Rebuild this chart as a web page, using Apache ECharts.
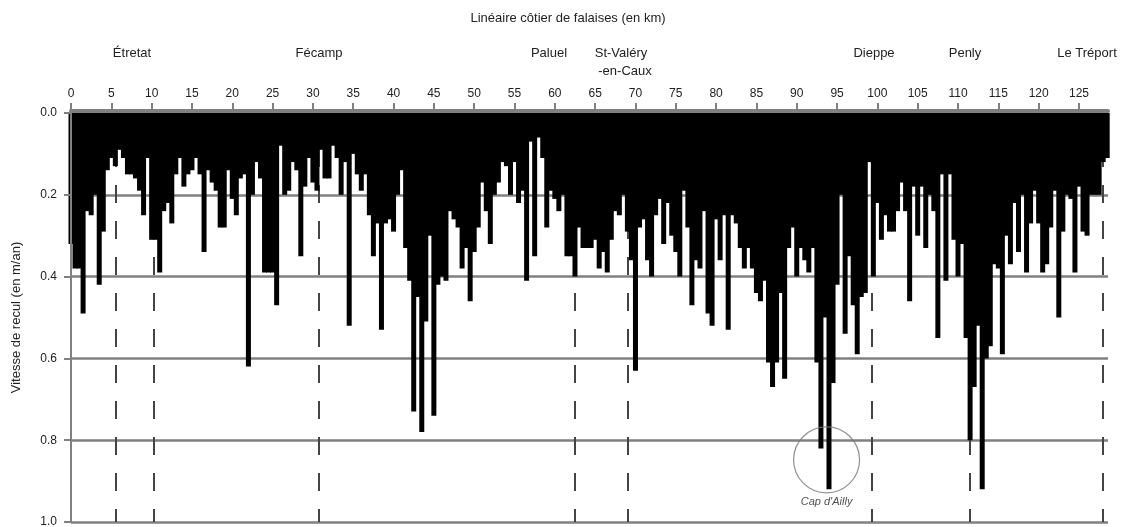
<!DOCTYPE html>
<html><head><meta charset="utf-8">
<script src="https://cdn.jsdelivr.net/npm/echarts@6/dist/echarts.min.js"></script>
<style>html,body{margin:0;padding:0;background:#fff}#c{width:1138px;height:527px}</style>
</head><body><div id="c"></div>
<script>
// Coastal cliff retreat rate (m/yr), one value every 0.5 km from km 0
const kmStep = 0.5;
const retreat = [
  0.32,0.38,0.38,0.49,0.24,0.25,0.20,0.42,0.29,0.14,
  0.11,0.13,0.09,0.11,0.15,0.15,0.16,0.19,0.25,0.11,
  0.31,0.31,0.39,0.24,0.22,0.27,0.15,0.11,0.18,0.15,
  0.14,0.11,0.15,0.34,0.14,0.17,0.19,0.28,0.28,0.14,
  0.21,0.25,0.16,0.15,0.62,0.20,0.12,0.16,0.39,0.39,
  0.39,0.47,0.08,0.20,0.19,0.12,0.14,0.35,0.18,0.11,
  0.17,0.19,0.09,0.16,0.16,0.08,0.11,0.20,0.12,0.52,
  0.10,0.15,0.19,0.15,0.25,0.35,0.27,0.53,0.27,0.26,
  0.29,0.20,0.14,0.33,0.41,0.73,0.45,0.78,0.51,0.30,
  0.74,0.42,0.40,0.41,0.24,0.26,0.28,0.38,0.33,0.46,
  0.34,0.28,0.17,0.24,0.32,0.20,0.17,0.12,0.13,0.20,
  0.12,0.22,0.19,0.41,0.07,0.35,0.06,0.11,0.28,0.19,
  0.21,0.24,0.20,0.35,0.35,0.40,0.28,0.33,0.33,0.33,
  0.31,0.38,0.34,0.39,0.31,0.24,0.25,0.20,0.29,0.36,
  0.63,0.28,0.26,0.36,0.40,0.25,0.21,0.32,0.22,0.30,
  0.34,0.40,0.19,0.28,0.47,0.36,0.38,0.24,0.49,0.52,
  0.26,0.36,0.25,0.53,0.25,0.27,0.33,0.38,0.33,0.38,
  0.44,0.46,0.41,0.61,0.67,0.61,0.44,0.65,0.33,0.28,
  0.40,0.33,0.36,0.39,0.33,0.61,0.82,0.50,0.92,0.66,
  0.42,0.20,0.54,0.35,0.47,0.59,0.45,0.44,0.12,0.40,
  0.22,0.31,0.25,0.29,0.29,0.24,0.17,0.24,0.46,0.18,
  0.30,0.18,0.33,0.20,0.24,0.55,0.15,0.41,0.15,0.31,
  0.40,0.32,0.55,0.80,0.67,0.52,0.92,0.60,0.57,0.37,
  0.38,0.59,0.30,0.37,0.22,0.34,0.20,0.39,0.27,0.19,
  0.27,0.39,0.37,0.28,0.19,0.50,0.29,0.20,0.21,0.39,
  0.18,0.29,0.30,0.20,0.20,0.20,0.12,0.11
];
const kmTicks = [0,5,10,15,20,25,30,35,40,45,50,55,60,65,70,75,80,85,90,95,100,105,110,115,120,125];
const valleyKm = [5.6,10.2,30.7,62.5,69.0,99.3,111.5,127.9];
const capAilly = [93.7, 0.848];
const placeNames = ['Étretat','Fécamp','Paluel','St-Valéry','-en-Caux','Dieppe','Penly','Le Tréport'];

const barData = retreat.map((v,i)=>[i*kmStep, v]);
const FONT = '"Liberation Sans", Arial, sans-serif';
const placePos = [[132,53],[319,53],[549,53],[621,53],[625,71],[874,53],[965,53],[1087,53]];

const chart = echarts.init(document.getElementById('c'), null, {renderer:'canvas'});
const graphics = [{
  type:'text', x:568, y:18,
  style:{text:'Linéaire côtier de falaises (en km)', font:'13px '+FONT, fill:'#222', align:'center', verticalAlign:'middle', textAlign:'center', textVerticalAlign:'middle'}
}];
placeNames.forEach((n,i)=>{
  graphics.push({type:'text', x:placePos[i][0], y:placePos[i][1],
    style:{text:n, font:'13px '+FONT, fill:'#222', align:'center', verticalAlign:'middle', textAlign:'center', textVerticalAlign:'middle'}});
});

chart.setOption({
  animation:false,
  backgroundColor:'#fff',
  textStyle:{fontFamily:FONT},
  grid:{left:71, right:30, top:113, bottom:5, containLabel:false, outerBoundsMode:'none'},
  graphic:graphics,
  xAxis:{
    type:'value', position:'top', min:0, max:128.6, offset:2,
    axisLine:{show:true, onZero:false, lineStyle:{color:'#808080', width:4}},
    axisTick:{show:true, length:8, customValues:kmTicks, lineStyle:{color:'#808080', width:2}},
    axisLabel:{show:true, customValues:kmTicks, margin:11, fontSize:12, color:'#222', fontFamily:FONT},
    splitLine:{show:false}
  },
  yAxis:[{
    type:'value', position:'left', inverse:true, min:0, max:1, interval:0.2,
    axisLine:{show:false}, axisTick:{show:false}, axisLabel:{show:false},
    splitLine:{show:true, lineStyle:{color:'#808080', width:2.5}}
  },{
    type:'value', position:'left', offset:0, inverse:true, min:0, max:1, interval:0.2, z:4,
    axisLine:{show:true, onZero:false, lineStyle:{color:'#808080', width:2}},
    axisTick:{show:true, length:7, lineStyle:{color:'#808080', width:2}},
    axisLabel:{formatter:v=>v.toFixed(1), margin:14, fontSize:12, color:'#222', fontFamily:FONT},
    splitLine:{show:false},
    name:'Vitesse de recul (en m/an)', nameLocation:'middle', nameGap:48,
    nameTextStyle:{fontSize:13, color:'#222', fontFamily:FONT}
  }],
  series:[{
    type:'bar', yAxisIndex:0, data:barData, barWidth:5, z:2,
    itemStyle:{color:'#000'}, silent:true,
    markLine:{
      z:1, silent:true, symbol:['none','none'], label:{show:false},
      lineStyle:{type:[18,18], color:'#444', width:2},
      data: valleyKm.map(k=>[{coord:[k,0]},{coord:[k,1]}])
    }
  },{
    type:'scatter', yAxisIndex:0, data:[capAilly], symbol:'circle', symbolSize:66, z:5, silent:true,
    itemStyle:{color:'rgba(0,0,0,0)', borderColor:'#777', borderWidth:1.2},
    label:{show:true, position:'bottom', distance:3, formatter:"Cap d'Ailly", fontStyle:'italic', fontSize:11, color:'#222', fontFamily:FONT}
  }]
});
</script></body></html>
